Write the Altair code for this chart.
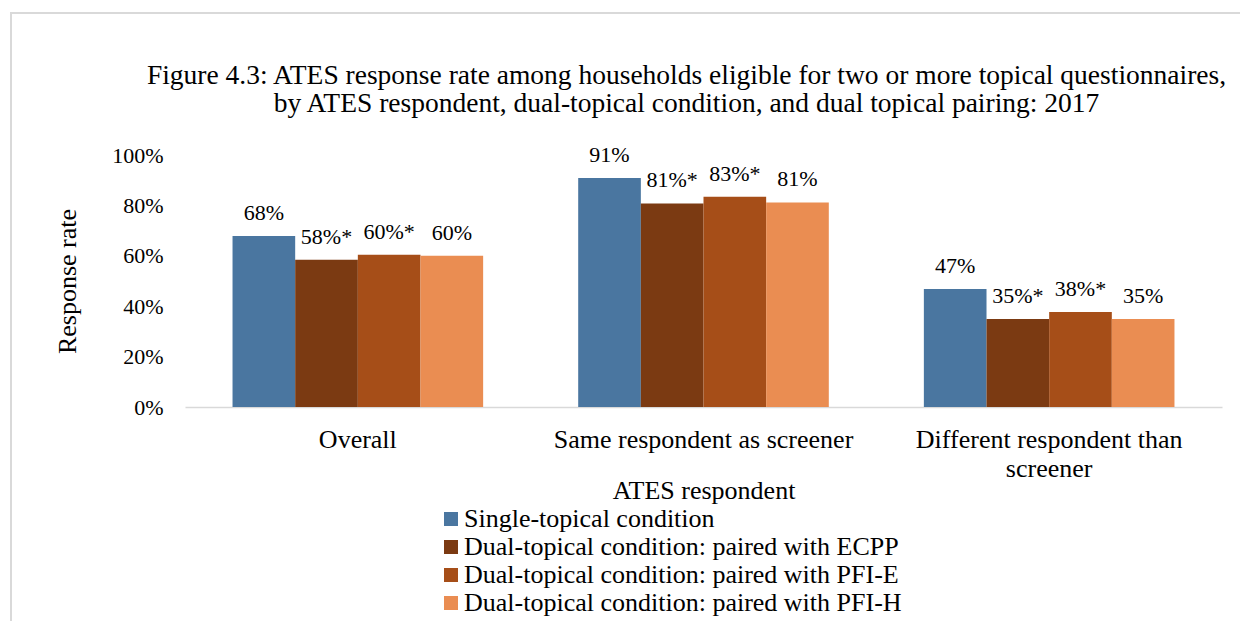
import altair as alt
import pandas as pd

categories = ["Overall", "Same respondent as screener", "Different respondent than screener"]
series = [
    "Single-topical condition",
    "Dual-topical condition: paired with ECPP",
    "Dual-topical condition: paired with PFI-E",
    "Dual-topical condition: paired with PFI-H",
]
colors = ["#4a76a0", "#7b3a12", "#a64e18", "#ea8d52"]
values = {
    "Overall": [67.9, 58.4, 60.4, 60.0],
    "Same respondent as screener": [90.9, 80.8, 83.4, 81.2],
    "Different respondent than screener": [46.8, 34.9, 37.7, 34.9],
}
stars = [False, True, True, False]
y_ticks = [0, 20, 40, 60, 80, 100]
title_lines = [
    "Figure 4.3: ATES response rate among households eligible for two or more topical questionnaires,",
    "by ATES respondent, dual-topical condition, and dual topical pairing: 2017",
]

rows = []
for c in categories:
    for s, v, st in zip(series, values[c], stars):
        rows.append({"cat": c, "series": s, "value": v,
                     "label": f"{round(v)}%" + ("*" if st else "")})
df = pd.DataFrame(rows)

FONT = "Liberation Serif"

x_enc = alt.X("cat:N", sort=categories,
              scale=alt.Scale(paddingInner=0.275, paddingOuter=0.1375),
              axis=alt.Axis(title="ATES respondent", labelAngle=0, labelLimit=0,
                            labelExpr="datum.label == 'Different respondent than screener' ? ['Different respondent than', 'screener'] : datum.label",
                            labelLineHeight=29, labelPadding=19,
                            labelFontSize=26, titleFontSize=26,
                            titleY=83, titleBaseline="middle"))
y_enc = alt.Y("value:Q", scale=alt.Scale(domain=[0, 100], nice=False),
              axis=alt.Axis(title="Response rate", values=y_ticks,
                            labelExpr="datum.value + '%'", titleFontSize=26,
                            titleX=-118, titleY=126, titleBaseline="middle"))
xoff = alt.XOffset("series:N", sort=series, scale=alt.Scale(paddingInner=0, paddingOuter=0))

base = alt.Chart(df).encode(x=x_enc, y=y_enc, xOffset=xoff)

bars = base.mark_bar().encode(
    color=alt.Color("series:N", sort=series,
                    scale=alt.Scale(domain=series, range=colors),
                    legend=alt.Legend(orient="none", legendX=253, legendY=351,
                                      title=None, labelFontSize=26, labelFont=FONT,
                                      labelColor="black", symbolType="square",
                                      symbolSize=196, symbolStrokeWidth=0,
                                      rowPadding=2, labelLimit=0, labelOffset=0,
                                      direction="vertical"))
)

text = base.mark_text(baseline="alphabetic", dy=-16, fontSize=22, font=FONT,
                      color="black").encode(text="label:N")

frame_df = pd.DataFrame({"k": [0]})
frame = alt.Chart(frame_df).mark_rect(fillOpacity=0, stroke="#d9d9d9",
                                      strokeWidth=2).encode(
    x=alt.value(-174), x2=alt.value(1300), y=alt.value(-142), y2=alt.value(700)
)

chart = alt.layer(frame, bars, text).properties(
    width=1037, height=252,
    autosize=alt.AutoSizeParams(type="none"),
    padding={"left": 177, "top": 147, "right": 18, "bottom": 214},
    title=alt.TitleParams(
        text=title_lines,
        font=FONT, fontSize=27.5, fontWeight="normal", color="black",
        anchor="middle", frame="group", dx=-17, offset=-133,
        baseline="bottom", lineHeight=28),
).configure_view(stroke=None).configure_axis(
    labelFont=FONT, titleFont=FONT, labelFontSize=22, titleFontSize=22,
    titleFontWeight="normal", labelColor="black", titleColor="black",
    grid=False, ticks=False, tickSize=0,
).configure_axisY(domain=False, labelPadding=22).configure_axisX(
    domain=True, domainColor="#d9d9d9", domainWidth=1.5
)

chart.save("out.html", embed_options={"renderer": "svg", "actions": False})
